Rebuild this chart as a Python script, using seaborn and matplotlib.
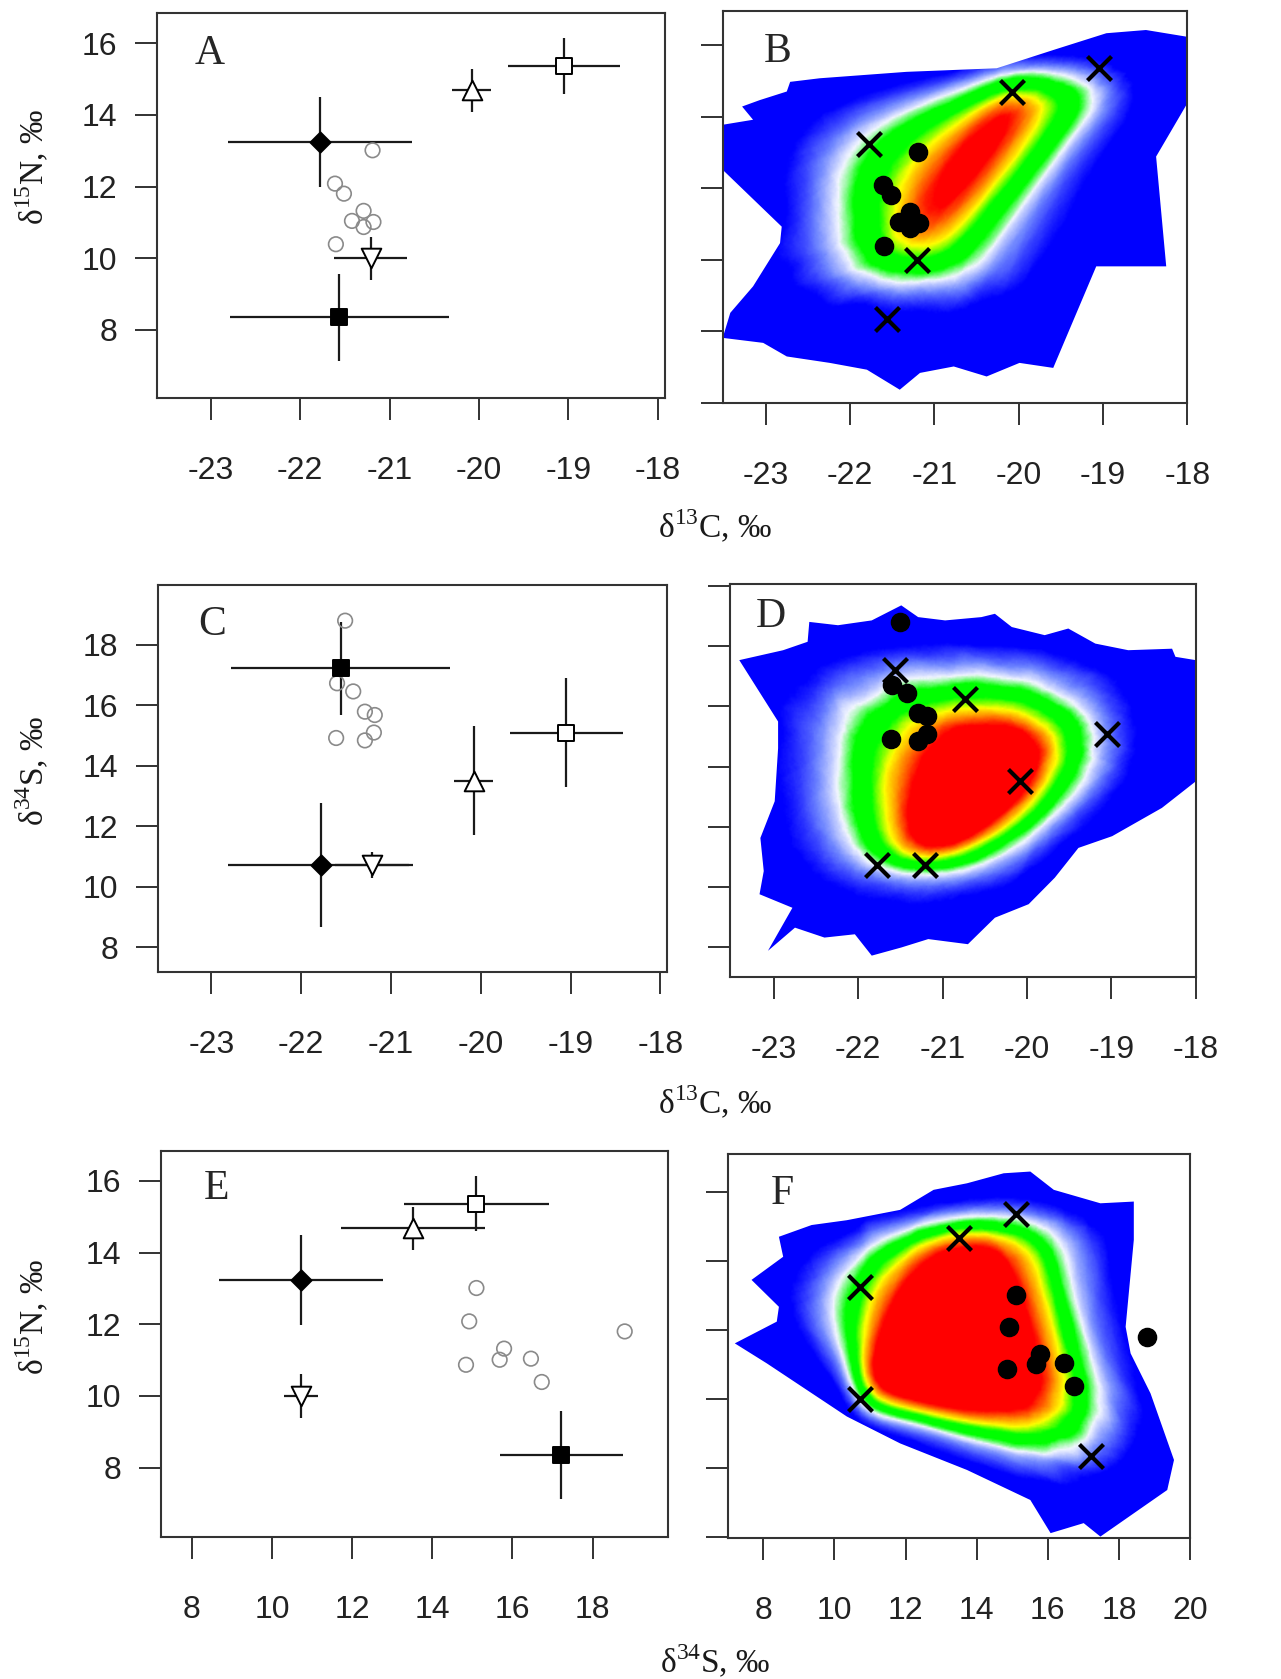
import numpy as np
import pandas as pd
import matplotlib
matplotlib.use("Agg")
import matplotlib.pyplot as plt
import seaborn as sns
from matplotlib.colors import LinearSegmentedColormap
from matplotlib.patches import Polygon

# ---------------- data ----------------
# sources (order: filled diamond, filled square, open triangle, open square, open inverted triangle)
src_c13_mean = [-21.78, -21.56, -20.08, -19.05, -21.21]
src_c13_sd = [1.03, 1.22, 0.22, 0.63, 0.41]
src_n15_mean = [13.24, 8.35, 14.68, 15.36, 10.00]
src_n15_sd = [1.26, 1.22, 0.60, 0.77, 0.60]
src_s34_mean = [10.72, 17.22, 13.51, 15.10, 10.72]
src_s34_sd = [2.04, 1.53, 1.80, 1.81, 0.43]
src_marker = ["D", "s", "^", "s", "v"]
src_face = ["black", "black", "white", "white", "white"]
src_size = [105, 120, 200, 120, 200]

# consumers
con_c13 = [-21.19, -21.61, -21.51, -21.29, -21.42, -21.18, -21.29, -21.60]
con_n15 = [13.01, 12.08, 11.80, 11.32, 11.04, 11.01, 10.87, 10.39]
con_s34 = [15.10, 14.92, 18.80, 15.79, 16.46, 15.68, 14.84, 16.73]

# additional cross shown in panel D
extra_d_c13 = [-20.74]
extra_d_s34 = [16.25]

# outer outline of the coloured mixing region
b_out_x = [-23.51, -23.15, -23.28, -23.07, -22.75, -22.71, -22.36, -21.33, -20.26, -19.59,
           -18.96, -18.49, -18.00, -18.00, -18.37, -18.25, -19.08, -19.59, -19.99, -20.38,
           -20.77, -21.17, -21.41, -21.80, -22.24, -22.75, -23.03, -23.51, -23.42, -23.15,
           -22.83, -22.81, -23.51]
b_out_y = [13.77, 13.91, 14.28, 14.46, 14.70, 14.97, 15.07, 15.25, 15.35, 15.86,
           16.33, 16.42, 16.23, 14.37, 12.88, 9.81, 9.81, 6.97, 7.11, 6.73,
           7.01, 6.83, 6.36, 6.92, 7.11, 7.29, 7.67, 7.81, 8.51, 9.25,
           10.46, 10.92, 12.51]
d_out_x = [-23.41, -22.89, -22.60, -22.58, -22.24, -21.84, -21.49, -21.29, -20.97, -20.54,
           -20.38, -20.18, -19.79, -19.51, -19.19, -18.80, -18.28, -18.24, -18.00, -18.00,
           -18.40, -18.99, -19.39, -19.67, -19.98, -20.38, -20.70, -21.17, -21.49, -21.84,
           -22.04, -22.40, -22.75, -23.07, -22.78, -23.17, -23.12, -23.16, -22.99, -22.95,
           -22.95]
d_out_y = [17.54, 17.87, 18.15, 18.81, 18.70, 18.86, 19.36, 18.97, 18.86, 18.97,
           19.08, 18.64, 18.37, 18.59, 18.09, 17.87, 17.92, 17.65, 17.54, 13.51,
           12.63, 11.69, 11.30, 10.31, 9.43, 8.98, 8.10, 8.27, 7.99, 7.72,
           8.43, 8.32, 8.65, 7.88, 9.31, 9.76, 10.53, 11.63, 12.85, 14.61,
           15.50]
f_out_x = [7.20, 8.38, 8.44, 7.67, 8.56, 8.44, 9.36, 10.35, 11.85, 12.79,
           13.73, 14.76, 15.51, 16.17, 17.48, 18.42, 18.42, 18.19, 18.33, 18.89,
           19.55, 19.36, 17.48, 17.01, 16.08, 15.51, 13.73, 11.85, 10.35, 8.10]
f_out_y = [11.62, 12.25, 12.68, 13.46, 14.13, 14.71, 15.05, 15.19, 15.49, 16.07,
           16.26, 16.55, 16.60, 16.07, 15.68, 15.73, 14.62, 12.10, 11.33, 10.17,
           8.24, 7.37, 6.02, 6.41, 6.12, 7.08, 7.95, 8.72, 9.50, 11.04]

c13_ticks = [-23, -22, -21, -20, -19, -18]
s34_ticks_left = [8, 10, 12, 14, 16, 18]
s34_ticks_right = [8, 10, 12, 14, 16, 18, 20]
n15_ticks_left = [8, 10, 12, 14, 16]
n15_ticks_right = [6, 8, 10, 12, 14, 16]

# ---------------- style ----------------
sns.set_style("ticks")
plt.rcParams["font.family"] = ["Liberation Sans", "DejaVu Sans"]
plt.rcParams["axes.unicode_minus"] = False
plt.rcParams["mathtext.fontset"] = "custom"
plt.rcParams["mathtext.rm"] = "Liberation Serif"
SERIF = ["Liberation Serif", "DejaVu Serif"]

fig = plt.figure(figsize=(12.81, 16.79), dpi=100)
W, H = 1281.0, 1679.0


def add_ax(l, t, r, b):
    return fig.add_axes([l / W, 1 - b / H, (r - l) / W, (b - t) / H])


axA = add_ax(157, 13, 665, 398)
axB = add_ax(722.7, 10.7, 1187.3, 403.3)
axC = add_ax(158.3, 585, 666.7, 971.7)
axD = add_ax(730, 584, 1195.7, 977.3)
axE = add_ax(161, 1151, 668, 1537.3)
axF = add_ax(727.7, 1154.3, 1190, 1538.3)

# ---------------- mixing-polygon probability (deterministic quasi-Monte Carlo) ----------------
N_ITER = 1500
primes = np.array([2, 3, 5, 7, 11, 13, 17, 19, 23, 29], float)
alpha = np.sqrt(primes) % 1.0
idx = np.arange(1, N_ITER + 1)[:, None]
U = (0.5 + idx * alpha) % 1.0
Rr = np.sqrt(-2.0 * np.log(U[:, 0::2]))
Z1 = Rr * np.cos(2 * np.pi * U[:, 1::2])
Z2 = Rr * np.sin(2 * np.pi * U[:, 1::2])


def convex_hull(pts):
    pts = sorted(pts)

    def cross(o, a, b):
        return (a[0] - o[0]) * (b[1] - o[1]) - (a[1] - o[1]) * (b[0] - o[0])

    lower = []
    for p in pts:
        while len(lower) >= 2 and cross(lower[-2], lower[-1], p) <= 0:
            lower.pop()
        lower.append(p)
    upper = []
    for p in reversed(pts):
        while len(upper) >= 2 and cross(upper[-2], upper[-1], p) <= 0:
            upper.pop()
        upper.append(p)
    return lower[:-1] + upper[:-1]


def mixing_prob(mx, sx, my, sy, xlim, ylim, nx=300, ny=250):
    mx, sx, my, sy = map(np.asarray, (mx, sx, my, sy))
    xs = np.linspace(xlim[0], xlim[1], nx)
    ys = np.linspace(ylim[0], ylim[1], ny)
    GX, GY = np.meshgrid(xs, ys)
    cnt = np.zeros(GX.shape, np.int32)
    for i in range(N_ITER):
        px = mx + sx * Z1[i]
        py = my + sy * Z2[i]
        h = convex_hull(list(zip(px.tolist(), py.tolist())))
        i0 = np.searchsorted(xs, min(px)); i1 = np.searchsorted(xs, max(px))
        j0 = np.searchsorted(ys, min(py)); j1 = np.searchsorted(ys, max(py))
        if i1 <= i0 or j1 <= j0:
            continue
        gx = GX[j0:j1, i0:i1]; gy = GY[j0:j1, i0:i1]
        inside = np.ones(gx.shape, bool)
        for k in range(len(h)):
            ax_, ay_ = h[k]
            bx_, by_ = h[(k + 1) % len(h)]
            inside &= ((bx_ - ax_) * (gy - ay_) - (by_ - ay_) * (gx - ax_)) >= 0
        cnt[j0:j1, i0:i1] += inside
    return cnt / N_ITER


def make_cmap(b, lb, w, g0, g1, yl, orng, rd):
    return LinearSegmentedColormap.from_list(
        "mix",
        [(0.0, "#0000FF"), (b, "#0000FF"), (lb, "#6F86FF"), (w, "#F2F6FF"),
         (g0, "#00FF00"), (g1, "#00FF00"), (yl, "#FFFF00"), (orng, "#FF8800"),
         (rd, "#FF0000"), (1.0, "#FF0000")])


cmapB = make_cmap(0.10, 0.21, 0.31, 0.41, 0.58, 0.70, 0.80, 0.89)
cmapD = make_cmap(0.08, 0.18, 0.27, 0.35, 0.47, 0.57, 0.65, 0.73)
cmapF = make_cmap(0.08, 0.18, 0.27, 0.36, 0.47, 0.57, 0.66, 0.75)

# ---------------- helpers ----------------
TICK_LEN = 15.8


def style_axis(ax, xlim, ylim, xticks, yticks, ylabels=True):
    ax.set_xlim(*xlim)
    ax.set_ylim(*ylim)
    ax.set_xticks(xticks)
    ax.set_yticks(yticks)
    ax.set_xticklabels([str(t) for t in xticks])
    if ylabels:
        ax.set_yticklabels([str(t) for t in yticks])
    else:
        ax.set_yticklabels([])
    ax.tick_params(axis="x", direction="out", length=TICK_LEN, width=1.3,
                   labelsize=23, pad=26, colors="#222222")
    ax.tick_params(axis="y", direction="out", length=TICK_LEN, width=1.3,
                   labelsize=23, pad=13, colors="#222222")
    for sp in ax.spines.values():
        sp.set_visible(True)
        sp.set_linewidth(1.5)
        sp.set_color("#333333")
        sp.set_zorder(8)
    ax.set_xlabel("")
    ax.set_ylabel("")


def left_panel(ax, sx_mean, sx_sd, sy_mean, sy_sd, cx, cy):
    ax.errorbar(sx_mean, sy_mean, xerr=sx_sd, yerr=sy_sd, fmt="none",
                ecolor="#1a1a1a", elinewidth=1.6, capsize=0, zorder=2)
    sns.scatterplot(x=cx, y=cy, ax=ax, marker="o", s=110, facecolors="none",
                    edgecolors="#8a8a8a", linewidths=1.2, zorder=3)
    for i in range(len(sx_mean)):
        sns.scatterplot(x=[sx_mean[i]], y=[sy_mean[i]], ax=ax, marker=src_marker[i],
                        s=src_size[i], facecolors=src_face[i], edgecolors="black",
                        linewidths=1.4, zorder=4)


def right_panel(ax, mx, sx, my, sy, cx, cy, xlim, ylim, out_x, out_y, cmap):
    P = mixing_prob(mx, sx, my, sy, xlim, ylim)
    im = ax.imshow(P, extent=(xlim[0], xlim[1], ylim[0], ylim[1]), origin="lower",
                   aspect="auto", cmap=cmap, vmin=0, vmax=1,
                   interpolation="bilinear", zorder=1)
    outline = Polygon(np.column_stack([out_x, out_y]), closed=True,
                      facecolor="none", edgecolor="none", transform=ax.transData)
    ax.add_patch(outline)
    im.set_clip_path(outline)
    sns.scatterplot(x=mx, y=my, ax=ax, marker="x", s=300, color="black",
                    linewidths=3.0, zorder=4)
    sns.scatterplot(x=cx, y=cy, ax=ax, marker="o", s=170, color="black",
                    edgecolor="black", zorder=5)


def letter(ax, s, x, y):
    ax.text(x, y, s, transform=ax.transAxes, fontsize=30, family=SERIF,
            ha="left", va="baseline", zorder=10)


# ---------------- panels ----------------
xlimA = (-23.6, -17.92); ylimA = (6.1, 16.84)
left_panel(axA, src_c13_mean, src_c13_sd, src_n15_mean, src_n15_sd, con_c13, con_n15)
style_axis(axA, xlimA, ylimA, c13_ticks, n15_ticks_left)
letter(axA, "A", 0.075, 0.868)

xlimB = (-23.51, -18.0); ylimB = (5.98, 16.96)
right_panel(axB, src_c13_mean, src_c13_sd, src_n15_mean, src_n15_sd, con_c13, con_n15,
            xlimB, ylimB, b_out_x, b_out_y, cmapB)
style_axis(axB, xlimB, ylimB, c13_ticks, n15_ticks_right, ylabels=False)
letter(axB, "B", 0.088, 0.869)

xlimC = (-23.59, -17.93); ylimC = (7.19, 19.98)
left_panel(axC, src_c13_mean, src_c13_sd, src_s34_mean, src_s34_sd, con_c13, con_s34)
style_axis(axC, xlimC, ylimC, c13_ticks, s34_ticks_left)
letter(axC, "C", 0.078, 0.871)

xlimD = (-23.52, -18.0); ylimD = (7.0, 20.07)
right_panel(axD, src_c13_mean, src_c13_sd, src_s34_mean, src_s34_sd, con_c13, con_s34,
            xlimD, ylimD, d_out_x, d_out_y, cmapD)
sns.scatterplot(x=extra_d_c13, y=extra_d_s34, ax=axD, marker="x", s=300, color="black",
                linewidths=3.0, zorder=4)
style_axis(axD, xlimD, ylimD, c13_ticks, s34_ticks_right, ylabels=False)
letter(axD, "D", 0.055, 0.891)

xlimE = (7.23, 19.88); ylimE = (6.06, 16.83)
left_panel(axE, src_s34_mean, src_s34_sd, src_n15_mean, src_n15_sd, con_s34, con_n15)
style_axis(axE, xlimE, ylimE, s34_ticks_left, n15_ticks_left)
letter(axE, "E", 0.085, 0.876)

xlimF = (7.0, 20.0); ylimF = (5.97, 17.1)
right_panel(axF, src_s34_mean, src_s34_sd, src_n15_mean, src_n15_sd, con_s34, con_n15,
            xlimF, ylimF, f_out_x, f_out_y, cmapF)
style_axis(axF, xlimF, ylimF, s34_ticks_right, n15_ticks_right, ylabels=False)
letter(axF, "F", 0.094, 0.871)

# ---------------- axis titles ----------------
lab_kw = dict(fontsize=24, family=SERIF, color="#1a1a1a")
fig.text(715 / W, 1 - 527 / H, r"δ$^{\mathregular{13}}$C, ‰", ha="center", va="center", **lab_kw)
fig.text(715 / W, 1 - 1103 / H, r"δ$^{\mathregular{13}}$C, ‰", ha="center", va="center", **lab_kw)
fig.text(715 / W, 1 - 1662 / H, r"δ$^{\mathregular{34}}$S, ‰", ha="center", va="center", **lab_kw)
fig.text(33 / W, 1 - 167 / H, r"δ$^{\mathregular{15}}$N, ‰", ha="center", va="center", rotation=90, **lab_kw)
fig.text(33 / W, 1 - 771 / H, r"δ$^{\mathregular{34}}$S, ‰", ha="center", va="center", rotation=90, **lab_kw)
fig.text(33 / W, 1 - 1317 / H, r"δ$^{\mathregular{15}}$N, ‰", ha="center", va="center", rotation=90, **lab_kw)

fig.savefig("out.png", dpi=100, facecolor="white")
